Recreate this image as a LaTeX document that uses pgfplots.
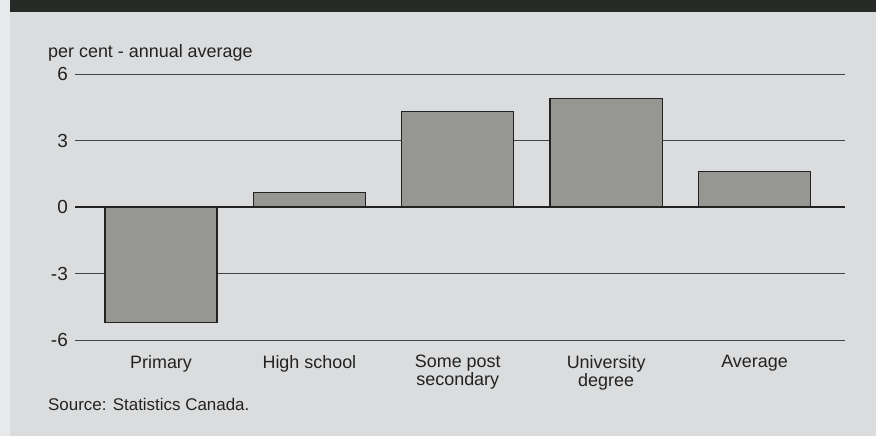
\documentclass[border=0pt]{standalone}
\usepackage{pgfplots}
\pgfplotsset{compat=1.18}
\usepackage{fontspec}
\setmainfont{Liberation Sans}
\definecolor{paper}{RGB}{219,220,221}
\definecolor{edge}{RGB}{232,233,234}
\definecolor{barfill}{RGB}{150,150,147}
\definecolor{band}{RGB}{40,42,40}
\definecolor{ink}{RGB}{34,34,34}

\begin{document}
\begin{tikzpicture}
\fill[paper] (0bp,0bp) rectangle (876bp,-436bp);
\fill[edge] (0bp,0bp) rectangle (10bp,-436bp);
\fill[band] (10bp,0bp) rectangle (876bp,-12bp);
\begin{axis}[
  at={(75bp,-340bp)}, anchor=south west,
  scale only axis, width=770bp, height=266bp,
  xmin=-0.58, xmax=4.61, ymin=-6, ymax=6,
  ybar, bar width=0.755, bar shift=0pt,
  xtick={0,1,2,3,4},
  xticklabels={Primary, High school, Some post\\secondary, University\\degree, Average},
  xticklabel style={align=center, anchor=north, inner sep=0pt, yshift=-11bp,
    font=\fontsize{18}{15.5}\selectfont, text=ink},
  ytick={-6,-3,0,3,6},
  yticklabel style={anchor=east, inner sep=0pt, xshift=-7bp,
    font=\fontsize{19}{19}\selectfont, text=ink},
  /pgf/number format/assume math mode=true,
  ymajorgrids, grid style={ink!85, line width=0.9pt},
  axis line style={draw=none}, tick style={draw=none},
  clip=false,
]
\addplot[fill=barfill, draw=ink, line width=1.3pt] coordinates {
  (0,-5.2) (1,0.65) (2,4.3) (3,4.9) (4,1.6)};
\draw[ink, line width=2.4pt] (axis cs:-0.58,0) -- (axis cs:4.61,0);
\end{axis}
\node[anchor=base west, inner sep=0pt, text=ink, font=\fontsize{18}{18}\selectfont]
  at (48bp,-57bp) {per cent - annual average};
\node[anchor=base west, inner sep=0pt, text=ink, font=\fontsize{17}{17}\selectfont]
  at (48bp,-410bp) {Source: Statistics Canada.};
\end{tikzpicture}
\end{document}
